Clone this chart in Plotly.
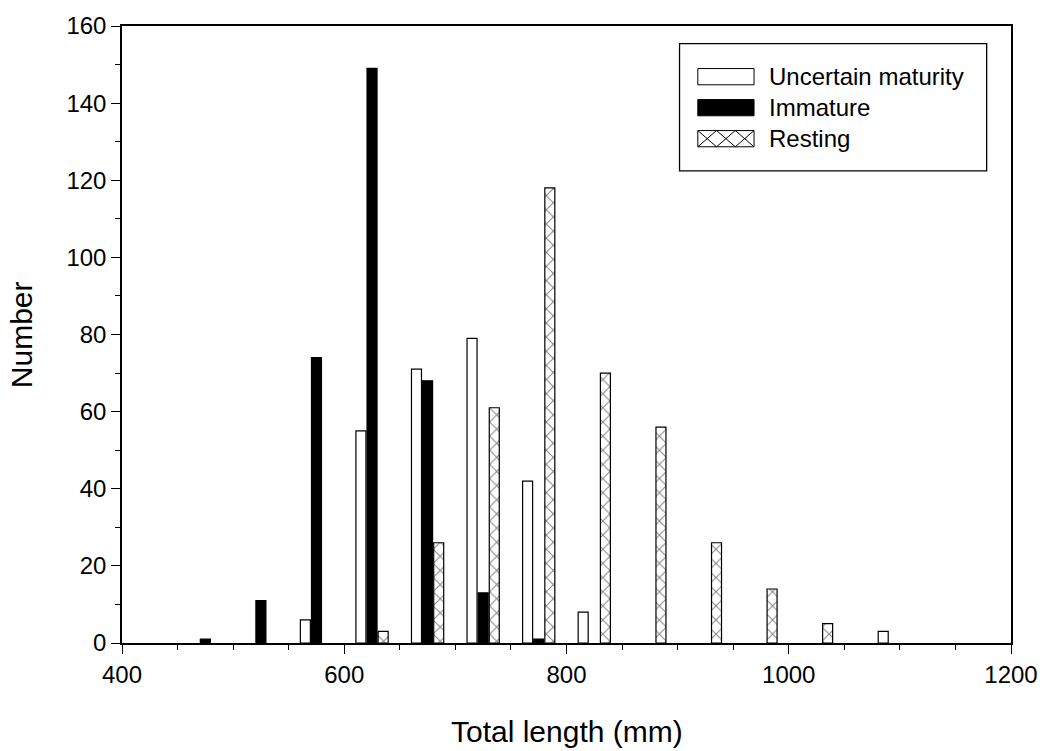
import plotly.graph_objects as go

# ---- data ----
series_names = ["Uncertain maturity", "Immature", "Resting"]

uncertain_length = [565, 615, 665, 715, 765, 815, 1085]
uncertain_count = [6, 55, 71, 79, 42, 8, 3]

immature_length = [475, 525, 575, 625, 675, 725, 775]
immature_count = [1, 11, 74, 149, 68, 13, 1]

resting_length = [635, 685, 735, 785, 835, 885, 935, 985, 1035]
resting_count = [3, 26, 61, 118, 70, 56, 26, 14, 5]

x_ticks = [400, 600, 800, 1000, 1200]
y_ticks = [0, 20, 40, 60, 80, 100, 120, 140, 160]

# ---- layout geometry (pixels) ----
W_PX, H_PX = 1050, 751
L, R, T, B = 122, 1017, 16, 643
PW, PH = R - L, B - T
FONT = "Arial, 'Liberation Sans', sans-serif"
BAR_W = 9


def px(x):
    return (x - L) / PW


def py(y):
    return (B - y) / PH


fig = go.Figure()
fig.add_trace(go.Bar(
    x=uncertain_length, y=uncertain_count, name=series_names[0], width=BAR_W,
    marker=dict(color="white", line=dict(color="black", width=1.2)),
    showlegend=False))
fig.add_trace(go.Bar(
    x=immature_length, y=immature_count, name=series_names[1], width=BAR_W,
    marker=dict(color="black", line=dict(color="black", width=1.2)),
    showlegend=False))
fig.add_trace(go.Bar(
    x=resting_length, y=resting_count, name=series_names[2], width=BAR_W,
    marker=dict(color="white", line=dict(color="black", width=1.2),
                pattern=dict(shape="x", fgcolor="black", bgcolor="white",
                             size=10, solidity=0.18)),
    showlegend=False))

axis_common = dict(
    showline=True, linecolor="black", linewidth=1.5, mirror=True,
    ticks="outside", ticklen=9, tickwidth=1.3, tickcolor="black",
    showgrid=False, zeroline=False,
    tickfont=dict(family=FONT, size=24, color="black"),
)

fig.update_layout(
    width=W_PX, height=H_PX,
    margin=dict(l=L, r=W_PX - R, t=T, b=H_PX - B),
    paper_bgcolor="white", plot_bgcolor="white",
    barmode="overlay",
    font=dict(family=FONT, color="black"),
    xaxis=dict(range=[400, 1200], tickvals=x_ticks,
               minor=dict(dtick=50, ticks="outside", ticklen=5, tickcolor="black", tickwidth=1.3),
               **axis_common),
    yaxis=dict(range=[0, 160], tickvals=y_ticks,
               minor=dict(dtick=10, ticks="outside", ticklen=5, tickcolor="black", tickwidth=1.3),
               **axis_common),
)

# axis titles
fig.add_annotation(text="Total length (mm)", xref="paper", yref="paper",
                   x=px((L + R) / 2), y=py(733), xanchor="center", yanchor="middle",
                   showarrow=False, font=dict(family=FONT, size=30, color="black"))
fig.add_annotation(text="Number", xref="paper", yref="paper", textangle=-90,
                   x=px(21), y=py((T + B) / 2), xanchor="center", yanchor="middle",
                   showarrow=False, font=dict(family=FONT, size=30, color="black"))

# custom legend
shapes = []
shapes.append(dict(type="rect", xref="paper", yref="paper",
                   x0=px(683.3), x1=px(992.5), y0=py(163.3), y1=py(34),
                   line=dict(color="black", width=1.3), fillcolor="white", layer="above"))
sw_x0, sw_x1 = 701.7, 758.3
row_y = [67.5, 99.0, 130.5]
sw_h = 16.5
fills = ["white", "black", "white"]
for name, yc, fc in zip(series_names, row_y, fills):
    shapes.append(dict(type="rect", xref="paper", yref="paper",
                       x0=px(sw_x0), x1=px(sw_x1), y0=py(yc + sw_h / 2), y1=py(yc - sw_h / 2),
                       line=dict(color="black", width=1), fillcolor=fc, layer="above"))
    fig.add_annotation(text=name, xref="paper", yref="paper",
                       x=px(771), y=py(yc), xanchor="left", yanchor="middle",
                       showarrow=False, font=dict(family=FONT, size=24, color="black"))
# crosshatch for the resting swatch
yc = row_y[2]
ytop, ybot = yc - sw_h / 2, yc + sw_h / 2
ncell = 3
cw = (sw_x1 - sw_x0) / ncell
path = ""
for i in range(ncell):
    a = sw_x0 + i * cw
    b = a + cw
    path += f"M{px(a)},{py(ytop)} L{px(b)},{py(ybot)} M{px(a)},{py(ybot)} L{px(b)},{py(ytop)} "
shapes.append(dict(type="path", xref="paper", yref="paper", path=path.strip(),
                   line=dict(color="black", width=1), layer="above"))
fig.update_layout(shapes=shapes)

fig.write_html("out.html")
